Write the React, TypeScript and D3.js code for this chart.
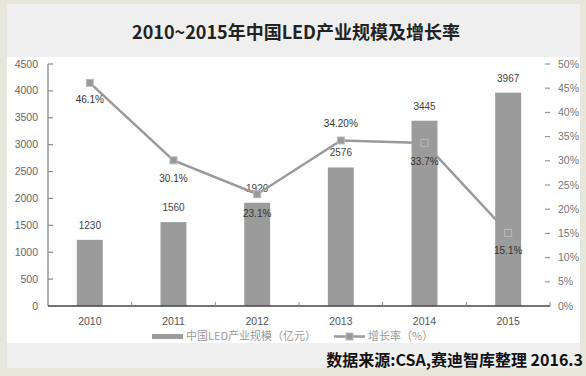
import React from "react";
import * as d3 from "d3";

const years = ["2010", "2011", "2012", "2013", "2014", "2015"];
const sizes = [1230, 1560, 1920, 2576, 3445, 3967];
const sizeLabels = ["1230", "1560", "1920", "2576", "3445", "3967"];
const growth = [46.1, 30.1, 23.1, 34.2, 33.7, 15.1];
const growthLabels = ["46.1%", "30.1%", "23.1%", "34.20%", "33.7%", "15.1%"];
const leftTicks = [0, 500, 1000, 1500, 2000, 2500, 3000, 3500, 4000, 4500];
const rightTicks = [0, 5, 10, 15, 20, 25, 30, 35, 40, 45, 50];
const growthLabelOffsets = [17, 18, 19, -17, 19, 18];

const W = 586;
const H = 376;
const plotL = 48;
const plotR = 550;
const plotT = 64;
const plotB = 306;

export default function App() {
  const x = d3.scaleBand<string>().domain(years).range([plotL, plotR]).paddingInner(0.69).paddingOuter(0.345);
  const xc = (y: string) => (x(y) as number) + x.bandwidth() / 2;
  const yL = d3.scaleLinear().domain([0, 4500]).range([plotB, plotT]);
  const yR = d3.scaleLinear().domain([0, 50]).range([plotB, plotT]);
  const line = d3
    .line<number>()
    .x((_, i) => xc(years[i]))
    .y((d) => yR(d));
  const step = (plotR - plotL) / years.length;
  const sans = "'Liberation Sans', Arial, sans-serif";
  const cjk = "'Noto Sans CJK SC', 'Liberation Sans', sans-serif";

  return (
    <svg width={W} height={H} style={{ position: "absolute", left: 0, top: 0 }}>
      <rect x={0} y={0} width={W} height={H} fill="#e6e6da" />
      <rect x={7} y={4} width={573} height={364} fill="#efefef" />
      <rect x={7} y={57} width={573} height={286} fill="#ffffff" />
      <text x={296} y={39} textAnchor="middle" fontFamily={cjk} fontSize={18} fontWeight={600} fill="#222">
        2010~2015年中国LED产业规模及增长率
      </text>

      {/* bars */}
      {sizes.map((v, i) => (
        <rect key={i} x={x(years[i])} y={yL(v)} width={x.bandwidth()} height={plotB - yL(v)} fill="#9b9b9b" />
      ))}

      {/* left axis */}
      <line x1={plotL} x2={plotL} y1={plotT} y2={plotB} stroke="#9a9a9a" strokeWidth={1.5} />
      {leftTicks.map((t) => (
        <g key={t}>
          {t > 0 && <line x1={plotL} x2={plotL + 5} y1={yL(t)} y2={yL(t)} stroke="#888" strokeWidth={1.2} />}
          <text x={38} y={yL(t) + 3.5} textAnchor="end" fontFamily={sans} fontSize={10.5} fill="#666">
            {t}
          </text>
        </g>
      ))}

      {/* right axis */}
      {rightTicks.map((t) => (
        <g key={t}>
          {t > 0 && <line x1={plotR - 5} x2={plotR} y1={yR(t)} y2={yR(t)} stroke="#999" strokeWidth={1.2} />}
          <text x={558} y={yR(t) + 3.5} textAnchor="start" fontFamily={sans} fontSize={10.5} fill="#777">
            {t}%
          </text>
        </g>
      ))}

      {/* x axis */}
      <line x1={plotL} x2={plotR} y1={plotB} y2={plotB} stroke="#444" strokeWidth={1.5} />
      {years.map((y, i) => (
        <g key={y}>
          <line x1={plotL + step * (i + 1)} x2={plotL + step * (i + 1)} y1={plotB} y2={plotB - 4} stroke="#888" />
          <text x={xc(y)} y={325} textAnchor="middle" fontFamily={sans} fontSize={10.5} fill="#555">
            {y}
          </text>
        </g>
      ))}

      {/* bar labels */}
      {sizes.map((v, i) => (
        <text key={i} x={xc(years[i])} y={yL(v) - 11} textAnchor="middle" fontFamily={sans} fontSize={10} fill="#444">
          {sizeLabels[i]}
        </text>
      ))}

      {/* growth line */}
      <path d={line(growth) as string} fill="none" stroke="#9a9a9a" strokeWidth={2.5} />
      {growth.map((g, i) => (
        <rect key={i} x={xc(years[i]) - 3.5} y={yR(g) - 3.5} width={7} height={7} fill="#999" stroke="#bbb" strokeWidth={1} />
      ))}
      {growth.map((g, i) => (
        <text key={i} x={xc(years[i])} y={yR(g) + growthLabelOffsets[i] + 3.5} textAnchor="middle" fontFamily={sans} fontSize={10} fill="#333">
          {growthLabels[i]}
        </text>
      ))}

      {/* legend */}
      <rect x={152} y={334} width={31} height={5} fill="#9b9b9b" />
      <text x={186} y={340} fontFamily={cjk} fontSize={11} fill="#999">
        中国LED产业规模（亿元）
      </text>
      <line x1={334} x2={365} y1={336.5} y2={336.5} stroke="#9a9a9a" strokeWidth={2.5} />
      <rect x={346} y={333} width={7} height={7} fill="#999" stroke="#bbb" />
      <text x={368} y={340} fontFamily={cjk} fontSize={11} fill="#999">
        增长率（%）
      </text>

      {/* source */}
      <text x={583} y={366} textAnchor="end" fontFamily={cjk} fontSize={16} fontWeight={700} fill="#111">
        数据来源:CSA,赛迪智库整理 2016.3
      </text>
    </svg>
  );
}
